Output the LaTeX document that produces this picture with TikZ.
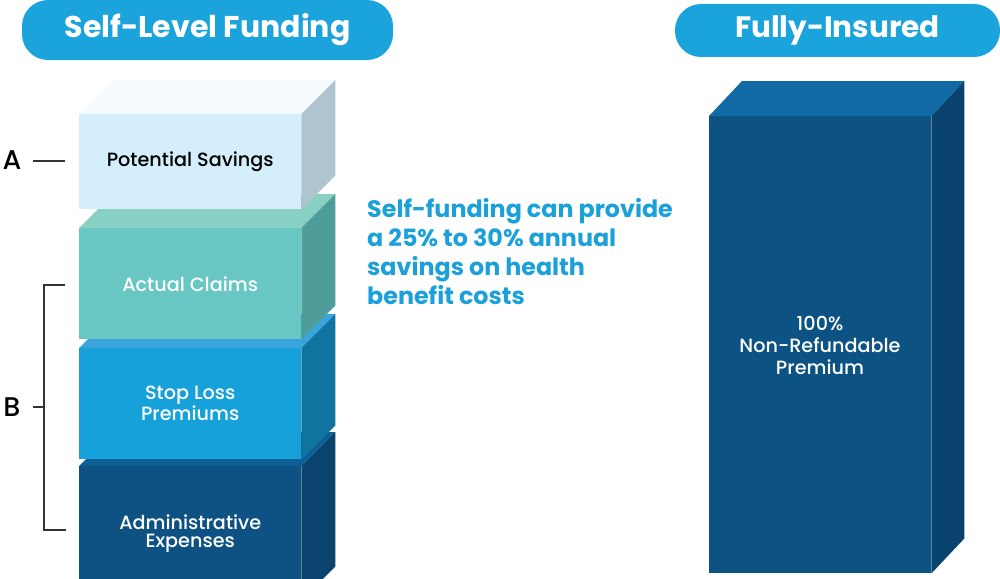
\documentclass[tikz,border=0pt]{standalone}
\usepackage{fontspec}
\setmainfont{Poppins}
\newfontfamily\medfont{Poppins Medium}
\definecolor{pill}{HTML}{1BA3DC}
\definecolor{tblue}{HTML}{1BA0DA}
\definecolor{psF}{HTML}{D4EEFB}\definecolor{psT}{HTML}{F4FAFE}\definecolor{psS}{HTML}{AEC4CE}
\definecolor{acF}{HTML}{69C7C3}\definecolor{acT}{HTML}{88CFC4}\definecolor{acS}{HTML}{4F9D9A}
\definecolor{slF}{HTML}{17A1DA}\definecolor{slT}{HTML}{3AA5DC}\definecolor{slS}{HTML}{11739F}
\definecolor{adF}{HTML}{0D5283}\definecolor{adT}{HTML}{0F5F97}\definecolor{adS}{HTML}{0A436E}
\definecolor{fiF}{HTML}{0C5282}\definecolor{fiT}{HTML}{116AA5}\definecolor{fiS}{HTML}{0A426E}
\definecolor{brk}{HTML}{333333}
\tikzset{
  pillbox/.style={fill=pill, text=white, rounded corners=26pt, inner sep=0pt},
  face/.style={anchor=north west, inner sep=0pt, minimum width=222pt, align=center, font=\medfont\fontsize{19.2}{18}\selectfont},
  letter/.style={font=\medfont\fontsize{27}{28}\selectfont, text=black, inner sep=0pt},
  brackline/.style={draw=brk, line width=1.4pt},
}
\newcommand{\cubefaces}[5]{% name, dx, dy, top, side
  \fill[#4] (#1.north west) -- ++(#2,-#3) -- ([xshift=#2pt,yshift=#3pt]#1.north east) -- (#1.north east) -- cycle;
  \fill[#5] (#1.north east) -- ([xshift=#2pt,yshift=#3pt]#1.north east) -- ([xshift=#2pt,yshift=#3pt]#1.south east) -- (#1.south east) -- cycle;
}
\begin{document}
\begin{tikzpicture}[x=1pt,y=-1pt]
\useasboundingbox (0,0) rectangle (1000,578);
% pills
\node[pillbox, minimum width=371pt, minimum height=60pt, font=\bfseries\fontsize{30}{30}\selectfont] (p1) at (207.5,30) {\raisebox{-1.5pt}{Self-Level Funding}};
\node[pillbox, minimum width=325pt, minimum height=53pt, font=\bfseries\fontsize{29.5}{30}\selectfont] (p2) at (837.5,30.5) {\raisebox{-2pt}{Fully-Insured}};
% stack: bottom to top
\node[face, fill=adF, text=white, minimum height=134pt] (ad) at (79,466) {Administrative\\Expenses};
\cubefaces{ad}{34}{34}{adT}{adS}
\node[face, fill=slF, text=white, minimum height=111pt] (sl) at (79,348) {Stop Loss\\Premiums};
\cubefaces{sl}{34}{34}{slT}{slS}
\node[face, fill=acF, text=white, minimum height=111pt] (ac) at (79,228) {Actual Claims};
\cubefaces{ac}{34}{34}{acT}{acS}
\node[face, fill=psF, text=black, minimum height=95pt] (ps) at (79,114) {Potential Savings};
\cubefaces{ps}{34}{34}{psT}{psS}
% fully insured
\node[face, fill=fiF, minimum width=222pt, minimum height=457pt] (fi) at (709,116) {};
\cubefaces{fi}{33}{35}{fiT}{fiS}
\node[text=white, align=center, inner sep=0pt, font=\medfont\fontsize{19.2}{22}\selectfont] (fit) at (820,345) {100\%\\Non-Refundable\\Premium};
% paragraph
\node[anchor=west, align=left, text=tblue, inner sep=0pt, font=\bfseries\fontsize{23.8}{29}\selectfont] (para) at (367,252) {Self-funding can provide\\a 25\% to 30\% annual\\savings on health\\benefit costs};
% A label
\node[letter] (A) at (12,160) {A};
\coordinate (a1) at (33,161);
\coordinate (a2) at (65,161);
\draw[brackline] (a1) -- (a2);
% B bracket
\node[letter] (B) at (12,407) {B};
\coordinate (bt) at (65,285);
\coordinate (bb) at (66,530);
\coordinate (bm) at (44,407);
\coordinate (bl) at (33,407);
\draw[brackline] (bt) -- (44,285) -- (44,530) -- (bb);
\draw[brackline] (bl) -- (bm);
\end{tikzpicture}
\end{document}
